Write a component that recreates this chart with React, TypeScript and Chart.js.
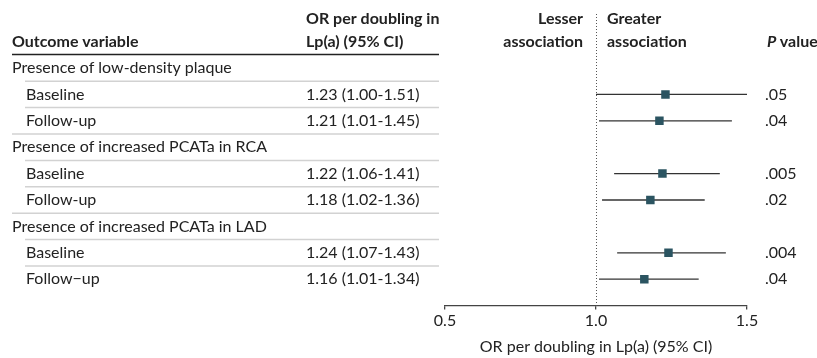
import React, { useEffect, useRef } from "react";
import { Chart, registerables } from "chart.js";
Chart.register(...registerables);

const groupLabels = [
  "Presence of low-density plaque",
  "Presence of increased PCATa in RCA",
  "Presence of increased PCATa in LAD",
];
const timeLabels = ["Baseline", "Follow-up", "Baseline", "Follow-up", "Baseline", "Follow\u2212up"];
const orValues = [1.23, 1.21, 1.22, 1.18, 1.24, 1.16];
const ciLower = [1.0, 1.01, 1.06, 1.02, 1.07, 1.01];
const ciUpper = [1.51, 1.45, 1.41, 1.36, 1.43, 1.34];
const orText = [
  "1.23 (1.00-1.51)",
  "1.21 (1.01-1.45)",
  "1.22 (1.06-1.41)",
  "1.18 (1.02-1.36)",
  "1.24 (1.07-1.43)",
  "1.16 (1.01-1.34)",
];
const pValues = [".05", ".04", ".005", ".02", ".004", ".04"];
const xMin = 0.5;
const xMax = 1.5;
const xStep = 0.5;
const refValue = 1.0;

const FONT = "Lato";
const FS = 16;
const TEXT = "#222222";

const rowOf = (k: number) => Math.floor(k / 2) * 3 + 1 + (k % 2);

export default function App() {
  const ref = useRef<HTMLCanvasElement | null>(null);
  useEffect(() => {
    const canvas = ref.current!;
    const tablePlugin = {
      id: "table",
      beforeDatasetsDraw(chart: any) {
        const ctx = chart.ctx as CanvasRenderingContext2D;
        const y = chart.scales.y;
        const x = chart.scales.x;
        ctx.save();
        // header
        ctx.fillStyle = TEXT;
        ctx.textBaseline = "middle";
        ctx.font = `bold ${FS}px ${FONT}`;
        ctx.textAlign = "left";
        ctx.fillText("Outcome variable", 12, 42);
        ctx.fillText("OR per doubling in", 306, 19);
        ctx.fillText("Lp(a) (95% CI)", 306, 42);
        ctx.textAlign = "right";
        ctx.fillText("Lesser", 583, 19);
        ctx.fillText("association", 583, 42);
        ctx.textAlign = "left";
        ctx.fillText("Greater", 607, 19);
        ctx.fillText("association", 607, 42);
        ctx.font = `italic bold ${FS}px ${FONT}`;
        ctx.fillText("P", 767, 42);
        const pw = ctx.measureText("P ").width;
        ctx.font = `bold ${FS}px ${FONT}`;
        ctx.fillText("value", 767 + pw, 42);
        // header rule
        ctx.strokeStyle = "#222";
        ctx.lineWidth = 1.5;
        ctx.beginPath();
        ctx.moveTo(12, 54.5);
        ctx.lineTo(439, 54.5);
        ctx.stroke();
        // row rules
        ctx.strokeStyle = "#d2d2d2";
        ctx.lineWidth = 1.5;
        for (let i = 0; i < 8; i++) {
          const yy = y.getPixelForValue(i + 0.5);
          ctx.beginPath();
          ctx.moveTo(i % 3 === 2 ? 12 : 25, yy);
          ctx.lineTo(439, yy);
          ctx.stroke();
        }
        // row texts
        ctx.fillStyle = TEXT;
        ctx.font = `${FS}px ${FONT}`;
        ctx.textAlign = "left";
        groupLabels.forEach((g, gi) => {
          ctx.fillText(g, 12, y.getPixelForValue(gi * 3));
        });
        timeLabels.forEach((t, k) => {
          const yy = y.getPixelForValue(rowOf(k));
          ctx.fillText(t, 26, yy);
          ctx.fillText(orText[k], 306, yy);
          ctx.fillText(pValues[k], 765, yy);
        });
        // reference line
        const rx = Math.round(x.getPixelForValue(refValue)) + 0.5;
        ctx.strokeStyle = "#555";
        ctx.lineWidth = 1;
        ctx.setLineDash([1, 2]);
        ctx.beginPath();
        ctx.moveTo(rx, 14);
        ctx.lineTo(rx, x.top);
        ctx.stroke();
        ctx.restore();
      },
    };

    const ciSets = orValues.map((_, k) => ({
      type: "line" as const,
      data: [
        { x: ciLower[k], y: rowOf(k) },
        { x: ciUpper[k], y: rowOf(k) },
      ],
      borderColor: "#333",
      borderWidth: 1.3,
      pointRadius: 0,
      order: 2,
    }));

    const chart = new Chart(canvas, {
      type: "scatter",
      data: {
        datasets: [
          ...ciSets,
          {
            type: "scatter" as const,
            data: orValues.map((v, k) => ({ x: v, y: rowOf(k) })),
            pointStyle: "rect",
            pointRadius: 6,
            pointHoverRadius: 6,
            backgroundColor: "#2b5461",
            borderWidth: 0,
            order: 0,
          },
        ] as any,
      },
      options: {
        animation: false,
        responsive: false,
        devicePixelRatio: 1,
        events: [],
        layout: { padding: { left: 445, right: 70, top: 54.8, bottom: 0 } },
        plugins: { legend: { display: false }, tooltip: { enabled: false } },
        scales: {
          x: {
            type: "linear",
            min: xMin,
            max: xMax,
            afterFit: (s: any) => {
              s.height = 52.4;
            },
            afterBuildTicks: (s: any) => {
              const t = [];
              for (let v = xMin; v <= xMax + 1e-9; v += xStep) t.push({ value: v });
              s.ticks = t;
            },
            grid: { drawOnChartArea: false, drawTicks: true, tickLength: 4, color: "#444", lineWidth: 1.3 },
            border: { display: true, color: "#444", width: 1.3 },
            ticks: {
              padding: 2,
              color: TEXT,
              font: { family: FONT, size: FS },
              callback: (v: any) => Number(v).toFixed(1),
            },
            title: {
              display: true,
              text: "OR per doubling in Lp(a) (95% CI)",
              color: TEXT,
              font: { family: FONT, size: FS },
              padding: { top: 0, bottom: 1.5 },
            },
          },
          y: {
            type: "linear",
            display: false,
            min: -0.5,
            max: 9.0,
            reverse: true,
          },
        },
      },
      plugins: [tablePlugin],
    });
    return () => chart.destroy();
  }, []);

  return (
    <div style={{ position: "fixed", left: 0, top: 0, width: 817, height: 358, background: "#fff" }}>
      <canvas ref={ref} width={817} height={358} style={{ width: 817, height: 358 }} />
    </div>
  );
}
